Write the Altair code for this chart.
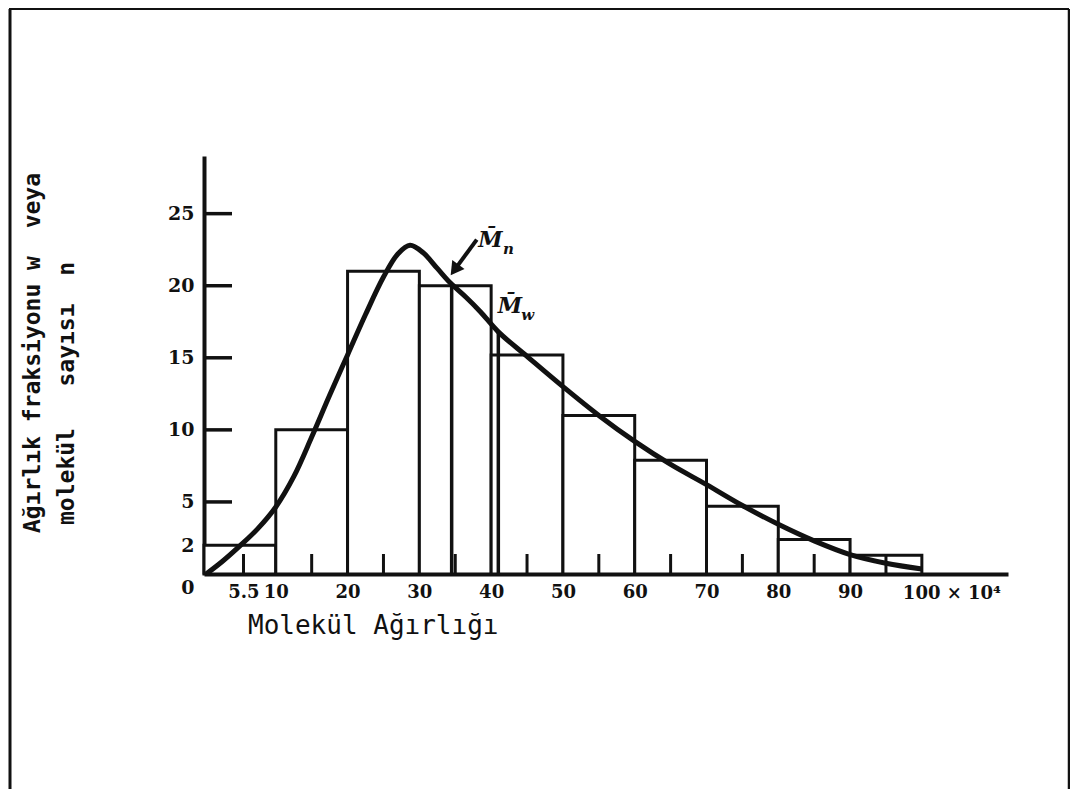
import altair as alt
import pandas as pd

# ---------------- data (molecular weight in units of 10^4) ----------------
bin_start = [0, 10, 20, 30, 40, 50, 60, 70, 80, 90]
bin_end = [10, 20, 30, 40, 50, 60, 70, 80, 90, 100]
bar_height = [2, 10, 21, 20, 15.2, 11.0, 7.9, 4.7, 2.4, 1.3]

curve_x = [0.3, 2.5, 5, 7.5, 10, 12.5, 15, 17.5, 20, 22.5, 25, 27, 28.7, 30.5,
           32.5, 34.3, 36.5, 38.5, 41, 45, 50, 55, 60, 65, 70, 75, 80, 85, 90, 95, 100]
curve_y = [0, 0.85, 1.95, 3.15, 4.65, 6.75, 9.5, 12.4, 15.2, 18.0, 20.6, 22.2, 22.8, 22.3,
           21.2, 20.2, 19.2, 18.2, 16.8, 15.1, 13.0, 11.0, 9.2, 7.6, 6.2, 4.75, 3.45, 2.3,
           1.35, 0.75, 0.35]

marker_x = [34.5, 41.0]        # Mn, Mw
marker_top = [20.1, 16.8]

arrow_x = [38.0, 34.9]
arrow_y = [23.2, 21.1]

label_x = [39.9, 42.6]
label_y = [23.2, 18.6]
label_sub = ["n", "w"]

x_label_values = [5.5, 10, 20, 30, 40, 50, 60, 70, 80, 90]
minor_ticks = [5.5, 15, 25, 35, 45, 55, 65, 75, 85, 95]
y_label_values = [0, 2, 5, 10, 15, 20, 25]
y_tick_values = [5, 10, 15, 20, 25]

NB = "\u00a0"
last_label = "100" + NB + "×" + NB + "10⁴"
x_title = "Molekül" + NB + "Ağırlığı"
y_title_1 = "Ağırlık" + NB + "fraksiyonu" + NB + "w" + NB * 2 + "veya"
y_title_2 = "molekül" + NB * 3 + "sayısı" + NB * 2 + "n"

# ---------------- layout ----------------
W, H = 804, 418
PAD = {"left": 196, "top": 148, "right": 1062 - 196 - 804, "bottom": 781 - 148 - 418}
INK = "#111111"
NUM_FONT = "DejaVu Serif"
TXT_FONT = "DejaVu Sans Mono"

xs = alt.Scale(domain=[0, 112], nice=False, zero=False)
ys = alt.Scale(domain=[0, 29], nice=False, zero=False)

bars_df = pd.DataFrame({"start": bin_start, "end": bin_end, "h": bar_height})
curve_df = pd.DataFrame({"x": curve_x, "y": curve_y})
marker_df = pd.DataFrame({"x": marker_x, "top": marker_top})
arrow_df = pd.DataFrame({"x": arrow_x, "y": arrow_y, "o": [0, 1]})
label_df = pd.DataFrame({"x": label_x, "y": label_y, "sub": label_sub})
minor_df = pd.DataFrame({"x": minor_ticks})
ytick_df = pd.DataFrame({"y": y_tick_values})
one = pd.DataFrame({"k": [0]})

x_axis = alt.Axis(values=x_label_values, labelExpr="'' + datum.value", ticks=False,
                  grid=False, domainWidth=4, domainColor=INK, labelFont=NUM_FONT,
                  labelFontWeight="bold", labelFontSize=18, labelColor=INK,
                  labelPadding=9, title=None, labelFlush=False)
y_axis = alt.Axis(values=y_label_values, ticks=False, grid=False, domainWidth=4,
                  domainColor=INK, labelFont=NUM_FONT, labelFontWeight="bold",
                  labelFontSize=19, labelColor=INK, labelPadding=10, title=None,
                  labelFlush=False,
                  labelOffset=alt.condition("datum.value === 0", alt.value(13), alt.value(0)))

bars = alt.Chart(bars_df).mark_rect(fill="white", stroke=INK, strokeWidth=3).encode(
    x=alt.X("start:Q", scale=xs, axis=x_axis),
    x2="end:Q",
    y=alt.Y("h:Q", scale=ys, axis=y_axis),
    y2=alt.datum(0),
)

minor = alt.Chart(minor_df).mark_rule(color=INK, strokeWidth=3).encode(
    x=alt.X("x:Q", scale=xs), y=alt.value(H), y2=alt.value(H - 20))

yticks = alt.Chart(ytick_df).mark_rule(color=INK, strokeWidth=3.5).encode(
    y=alt.Y("y:Q", scale=ys), x=alt.value(0), x2=alt.value(28))

markers = alt.Chart(marker_df).mark_rule(color=INK, strokeWidth=3.5).encode(
    x=alt.X("x:Q", scale=xs), y=alt.Y("top:Q", scale=ys), y2=alt.datum(0))

curve = alt.Chart(curve_df).mark_line(color=INK, strokeWidth=5, interpolate="catmull-rom").encode(
    x=alt.X("x:Q", scale=xs), y=alt.Y("y:Q", scale=ys))

arrow = alt.Chart(arrow_df).mark_line(color=INK, strokeWidth=4).encode(
    x=alt.X("x:Q", scale=xs), y=alt.Y("y:Q", scale=ys), order="o:Q")

arrow_head = alt.Chart(arrow_df.iloc[[1]]).mark_point(
    shape="triangle-up", filled=True, color=INK, opacity=1, size=230, angle=216).encode(
    x=alt.X("x:Q", scale=xs), y=alt.Y("y:Q", scale=ys))

m_labels = alt.Chart(label_df).mark_text(
    font=NUM_FONT, fontWeight="bold", fontStyle="italic", fontSize=22, color=INK,
    align="center", baseline="middle").encode(
    x=alt.X("x:Q", scale=xs), y=alt.Y("y:Q", scale=ys), text=alt.value("M\u0304"))

m_subs = alt.Chart(label_df).mark_text(
    font=NUM_FONT, fontWeight="bold", fontStyle="italic", fontSize=15, color=INK,
    align="center", baseline="middle", dx=18, dy=9).encode(
    x=alt.X("x:Q", scale=xs), y=alt.Y("y:Q", scale=ys), text="sub:N")

last = alt.Chart(one).mark_text(
    font=NUM_FONT, fontWeight="bold", fontSize=18, color=INK, align="left",
    baseline="top", dx=-19, dy=11).encode(
    x=alt.datum(100, scale=xs), y=alt.datum(0, scale=ys), text=alt.value(last_label))

xt = alt.Chart(one).mark_text(font=TXT_FONT, fontSize=26, color=INK, align="left",
                              baseline="middle").encode(
    x=alt.value(44), y=alt.value(H + 52), text=alt.value(x_title))

yt1 = alt.Chart(one).mark_text(font=TXT_FONT, fontSize=23, fontWeight="bold", color=INK,
                               align="left", baseline="middle", angle=270).encode(
    x=alt.value(-171), y=alt.value(377), text=alt.value(y_title_1))
yt2 = alt.Chart(one).mark_text(font=TXT_FONT, fontSize=23, fontWeight="bold", color=INK,
                               align="left", baseline="middle", angle=270).encode(
    x=alt.value(-137), y=alt.value(369), text=alt.value(y_title_2))

b_left = alt.Chart(one).mark_rule(color=INK, strokeWidth=3).encode(
    x=alt.value(-194), y=alt.value(-147), y2=alt.value(H + PAD["bottom"]))
b_top = alt.Chart(one).mark_rule(color=INK, strokeWidth=2).encode(
    x=alt.value(-195), x2=alt.value(W + PAD["right"] - 1), y=alt.value(-147))
b_right = alt.Chart(one).mark_rule(color=INK, strokeWidth=2.5).encode(
    x=alt.value(W + PAD["right"] - 1), y=alt.value(-147), y2=alt.value(H + PAD["bottom"]))

chart = alt.layer(
    bars, minor, yticks, markers, curve, arrow, arrow_head, m_labels, m_subs, last,
    xt, yt1, yt2, b_left, b_top, b_right
).properties(
    width=W, height=H, padding=PAD, autosize=alt.AutoSizeParams(type="none"),
    background="white"
).configure_view(stroke=None)

chart.save("out.html", embed_options={"renderer": "svg", "actions": False})
